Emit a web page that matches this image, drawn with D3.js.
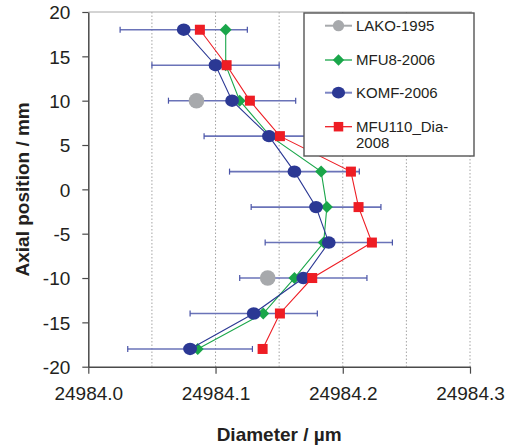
<!DOCTYPE html>
<html>
<head>
<meta charset="utf-8">
<script src="https://cdn.jsdelivr.net/npm/d3@7"></script>
<style>
  html, body { margin: 0; padding: 0; background: #fff; }
  svg { display: block; font-family: "Liberation Sans", Arial, Helvetica, sans-serif; }
</style>
</head>
<body>
<svg id="chart" width="514" height="447"></svg>
<script>
// Axial measurement positions (mm)
const positions = [18, 14, 10, 6, 2, -2, -6, -10, -14, -18];

// Diameter readings (µm) per series, aligned with positions; null = not measured
const lako1995 = [null, null, 24984.085, null, null, null, null, 24984.141, null, null];
const mfu8_2006 = [24984.108, 24984.108, 24984.119, 24984.143, 24984.183, 24984.1875, 24984.185, 24984.162, 24984.1375, 24984.086];
const komf2006 = [24984.075, 24984.100, 24984.113, 24984.142, 24984.162, 24984.179, 24984.189, 24984.169, 24984.130, 24984.080];
const komf2006Err = [0.050, 0.050, 0.050, 0.051, 0.051, 0.051, 0.050, 0.050, 0.050, 0.049];
const mfu110_2008 = [24984.0877, 24984.1087, 24984.127, 24984.1506, 24984.2064, 24984.2124, 24984.2229, 24984.176, 24984.1506, 24984.137];

const xTicks = [24984.0, 24984.1, 24984.2, 24984.3];
const xGrid = [24984.05, 24984.1, 24984.15, 24984.2, 24984.25, 24984.3];
const yTicks = [-20, -15, -10, -5, 0, 5, 10, 15, 20];

const seriesNames = ["LAKO-1995", "MFU8-2006", "KOMF-2006", "MFU110_Dia-2008"];

const series = [
  { name: seriesNames[0], values: lako1995, color: "#a7a9ac", legendLine: "#a7a9ac", shape: "bigcircle", line: false },
  { name: seriesNames[1], values: mfu8_2006, color: "#1aa64a", legendLine: "#1aa64a", shape: "diamond", line: true },
  { name: seriesNames[2], values: komf2006, color: "#2b3894", legendLine: "#7c85c4", shape: "circle", line: true },
  { name: seriesNames[3], values: mfu110_2008, color: "#ee1d24", legendLine: "#ee1d24", shape: "square", line: true }
];

const svg = d3.select("#chart");
const plot = { left: 88.3, right: 470, top: 12, bottom: 366.7 };

const x = d3.scaleLinear().domain([24984.0, 24984.3]).range([plot.left, plot.right]);
const y = d3.scaleLinear().domain([-20, 20]).range([plot.bottom, plot.top]);

// dotted vertical gridlines
svg.append("g").selectAll("line").data(xGrid).join("line")
  .attr("x1", d => x(d)).attr("x2", d => x(d))
  .attr("y1", plot.top).attr("y2", plot.bottom)
  .attr("stroke", "#a4a4a4").attr("stroke-width", 1)
  .attr("stroke-dasharray", "1.5,2");

// top frame line
svg.append("line")
  .attr("x1", plot.left).attr("x2", plot.right + 2)
  .attr("y1", plot.top).attr("y2", plot.top)
  .attr("stroke", "#a8a8a8").attr("stroke-width", 1);

// axes
const xAxis = svg.append("g")
  .attr("transform", `translate(0,${plot.bottom})`)
  .call(d3.axisBottom(x).tickValues(xTicks).tickFormat(d3.format(".1f")).tickSize(7).tickSizeOuter(0).tickPadding(13));
const yAxis = svg.append("g")
  .attr("transform", `translate(${plot.left},0)`)
  .call(d3.axisLeft(y).tickValues(yTicks).tickFormat(d => String(d)).tickSize(6).tickSizeOuter(0).tickPadding(12));

[xAxis, yAxis].forEach(a => {
  a.select(".domain").attr("stroke", "#4a4a4a").attr("stroke-width", 1.5);
  a.selectAll(".tick line").attr("stroke", "#4a4a4a").attr("stroke-width", 1.2);
  a.selectAll(".tick text").attr("fill", "#231f20")
    .style("font-size", "19px").style("font-family", "'Liberation Sans', Arial, sans-serif");
});
yAxis.selectAll(".tick text").attr("dy", "0.36em");

// axis titles
svg.append("text")
  .attr("x", (plot.left + plot.right) / 2).attr("y", 441)
  .attr("text-anchor", "middle")
  .attr("fill", "#231f20")
  .style("font-size", "19px").style("font-weight", "bold")
  .text("Diameter / µm");
svg.append("text")
  .attr("transform", `translate(28.8,${(plot.top + plot.bottom) / 2}) rotate(-90)`)
  .attr("text-anchor", "middle")
  .attr("fill", "#231f20")
  .style("font-size", "19px").style("font-weight", "bold")
  .text("Axial position / mm");

// KOMF-2006 horizontal error bars
const errG = svg.append("g");
positions.forEach((p, i) => {
  const v = komf2006[i], e = komf2006Err[i];
  const x0 = x(v - e), x1 = x(v + e), yy = y(p);
  errG.append("line").attr("x1", x0).attr("x2", x1).attr("y1", yy).attr("y2", yy)
    .attr("stroke", "#6a73b8").attr("stroke-width", 1.6);
  [x0, x1].forEach(xe => errG.append("line")
    .attr("x1", xe).attr("x2", xe).attr("y1", yy - 3).attr("y2", yy + 3)
    .attr("stroke", "#4a54a8").attr("stroke-width", 1.2));
});

function drawMarker(g, shape, cx, cy, color, scale = 1) {
  if (shape === "circle") {
    g.append("ellipse").attr("cx", cx).attr("cy", cy).attr("rx", 6.9 * scale).attr("ry", 6.2 * scale).attr("fill", color);
  } else if (shape === "bigcircle") {
    g.append("circle").attr("cx", cx).attr("cy", cy).attr("r", 7.8 * scale).attr("fill", color);
  } else if (shape === "diamond") {
    const r = 6 * scale;
    g.append("path").attr("d", `M${cx},${cy - r}L${cx + r},${cy}L${cx},${cy + r}L${cx - r},${cy}Z`).attr("fill", color);
  } else if (shape === "square") {
    const s = 10 * scale;
    g.append("rect").attr("x", cx - s / 2).attr("y", cy - s / 2).attr("width", s).attr("height", s).attr("fill", color);
  }
}

// series lines and markers
const line = d3.line()
  .defined(d => d.v !== null)
  .x(d => x(d.v)).y(d => y(d.p));

series.forEach(s => {
  const g = svg.append("g");
  const pts = positions.map((p, i) => ({ p, v: s.values[i] }));
  if (s.line) {
    g.append("path").datum(pts).attr("d", line)
      .attr("fill", "none").attr("stroke", s.color).attr("stroke-width", 1.1);
  }
  pts.filter(d => d.v !== null).forEach(d => drawMarker(g, s.shape, x(d.v), y(d.p), s.color));
});

// legend
const lg = svg.append("g");
lg.append("rect").attr("x", 304).attr("y", 13).attr("width", 170).attr("height", 143)
  .attr("fill", "#fff").attr("stroke", "#555").attr("stroke-width", 1.4);
const rowY = [25.7, 60, 92.7, 126.7];
series.forEach((s, i) => {
  const cy = rowY[i];
  lg.append("line").attr("x1", 325).attr("x2", 352).attr("y1", cy).attr("y2", cy)
    .attr("stroke", s.legendLine).attr("stroke-width", s.shape === "circle" || s.shape === "bigcircle" ? 2 : 1.3);
  drawMarker(lg, s.shape, 338.5, cy, s.color, s.shape === "bigcircle" ? 0.72 : 0.95);
});
const legendText = [["LAKO-1995"], ["MFU8-2006"], ["KOMF-2006"], ["MFU110_Dia-", "2008"]];
legendText.forEach((lines, i) => {
  const t = lg.append("text").attr("x", 356).attr("y", rowY[i] + 5.4)
    .attr("fill", "#231f20").style("font-size", "15px");
  lines.forEach((ln, j) => t.append("tspan").attr("x", 356).attr("dy", j === 0 ? 0 : 16.2).text(ln));
});
</script>
</body>
</html>
